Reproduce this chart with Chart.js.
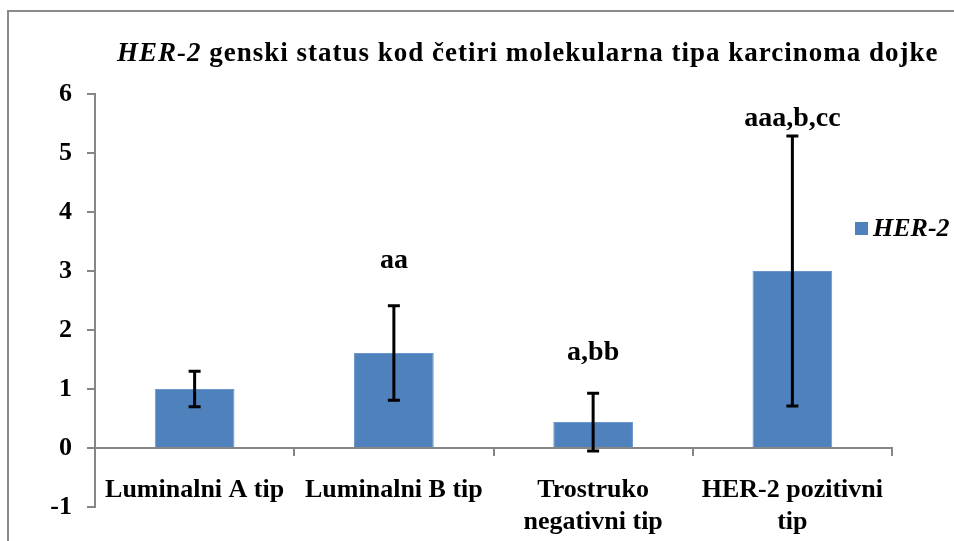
<!DOCTYPE html>
<html>
<head>
<meta charset="utf-8">
<script src="https://cdn.jsdelivr.net/npm/chart.js@4.4.1/dist/chart.umd.min.js"></script>
<style>
    html, body { margin: 0; padding: 0; background: #fff; overflow: hidden; }
    #okvir { position: relative; width: 954px; height: 541px; }
    #ivica {
        position: absolute; left: 7px; top: 10px; width: 980px; height: 560px;
        border: 2px solid #8a8a8a; box-sizing: border-box;
    }
    #naslov {
        position: absolute; left: 117px; top: 37px; white-space: nowrap;
        font-family: 'Liberation Serif'; font-weight: bold; font-size: 27px; letter-spacing: 1px;
    }
    canvas { position: absolute; left: 0; top: 0; }
</style>
</head>
<body>
<div id="okvir">
    <div id="ivica"></div>
    <canvas id="her2Chart" width="954" height="541"></canvas>
    <div id="naslov"><i>HER-2</i> genski status kod četiri molekularna tipa karcinoma dojke</div>
</div>
<script>
// Kategorije (molekularni tipovi)
const tipovi = [
    'Luminalni A tip',
    'Luminalni B tip',
    ['Trostruko', 'negativni tip'],
    ['HER-2 pozitivni', 'tip']
];
// Srednje vrijednosti HER-2 i standardne devijacije
const her2Vrijednosti = [1.0, 1.61, 0.44, 3.0];
const her2SD = [0.3, 0.8, 0.49, 2.29];
// Oznake statisticke znacajnosti iznad stubaca
const oznake = ['', 'aa', 'a,bb', 'aaa,b,cc'];
// Oznake na y osi
const yOznake = [-1, 0, 1, 2, 3, 4, 5, 6];

const FONT = 'Liberation Serif';
const SIVA = '#868686';
const PLAVA = '#4F81BD';

// Stupci greske + slova znacajnosti
const greskePlugin = {
    id: 'greske',
    afterDatasetsDraw(chart, args, opts) {
        const ctx = chart.ctx;
        const y = chart.scales.y;
        const meta = chart.getDatasetMeta(0);
        ctx.save();
        meta.data.forEach((bar, i) => {
            const v = her2Vrijednosti[i];
            const sd = her2SD[i];
            const yGore = y.getPixelForValue(v + sd);
            const yDolje = y.getPixelForValue(v - sd);
            ctx.strokeStyle = '#000';
            ctx.lineWidth = 3;
            ctx.beginPath();
            ctx.moveTo(bar.x, yGore);
            ctx.lineTo(bar.x, yDolje);
            ctx.moveTo(bar.x - 6, yGore);
            ctx.lineTo(bar.x + 6, yGore);
            ctx.moveTo(bar.x - 6, yDolje);
            ctx.lineTo(bar.x + 6, yDolje);
            ctx.stroke();

            if (oznake[i]) {
                ctx.fillStyle = '#000';
                ctx.font = 'bold 28px "' + FONT + '"';
                ctx.textAlign = 'center';
                ctx.textBaseline = 'middle';
                ctx.fillText(oznake[i], bar.x, yGore - opts.razmak[i]);
            }
        });
        ctx.restore();
    },
    afterDraw(chart) {
        // legenda desno
        const ctx = chart.ctx;
        const ds = chart.data.datasets[0];
        ctx.save();
        ctx.fillStyle = ds.backgroundColor;
        ctx.fillRect(855, 222, 13, 13);
        ctx.fillStyle = '#000';
        ctx.font = 'italic bold 26px "' + FONT + '"';
        ctx.textAlign = 'left';
        ctx.textBaseline = 'middle';
        ctx.fillText(ds.label, 873, 229);
        ctx.restore();
    }
};

const ctx = document.getElementById('her2Chart').getContext('2d');
new Chart(ctx, {
    type: 'bar',
    data: {
        labels: tipovi,
        datasets: [{
            label: 'HER-2',
            data: her2Vrijednosti,
            backgroundColor: PLAVA,
            borderColor: '#6a96cb',
            borderWidth: 1,
            categoryPercentage: 1,
            barPercentage: 0.4
        }]
    },
    options: {
        responsive: false,
        animation: false,
        layout: { padding: { left: 0, top: 94, right: 62, bottom: 34 } },
        plugins: {
            legend: { display: false },
            tooltip: { enabled: false },
            greske: { razmak: [0, 45, 40, 17] }
        },
        scales: {
            x: {
                position: { y: 0 },
                grid: { display: true, drawOnChartArea: false, tickLength: 7, color: SIVA, lineWidth: 2 },
                border: { color: SIVA, width: 2 },
                ticks: {
                    color: '#000',
                    padding: 20,
                    maxRotation: 0,
                    font: { family: FONT, size: 26, weight: 'bold', lineHeight: 1.2 }
                }
            },
            y: {
                min: -1,
                max: 6,
                afterFit(scale) { scale.width = 95; },
                afterBuildTicks(scale) { scale.ticks = yOznake.map(v => ({ value: v })); },
                grid: { display: true, drawOnChartArea: false, tickLength: 8, color: SIVA, lineWidth: 2 },
                border: { color: SIVA, width: 2 },
                ticks: {
                    color: '#000',
                    padding: 15,
                    font: { family: FONT, size: 26, weight: 'bold' }
                }
            }
        }
    },
    plugins: [greskePlugin]
});
</script>
</body>
</html>
